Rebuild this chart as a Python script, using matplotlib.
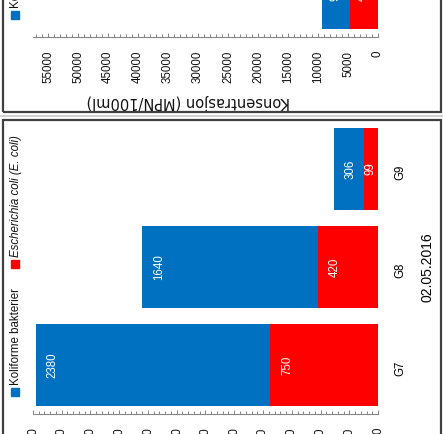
import matplotlib
matplotlib.use('Agg')
import matplotlib.pyplot as plt
from matplotlib.patches import Rectangle
from matplotlib.lines import Line2D
from matplotlib.ticker import MultipleLocator, FuncFormatter

# ---------------- data ----------------
sites = ['G7', 'G8', 'G9']
koliforme = [2380, 1640, 306]
ecoli = [750, 420, 99]
date_label = '02.05.2016'
top_koliforme = [9400]
top_ecoli = [4700]
legend_labels = ['Koliforme bakterier', 'Escherichia coli (E. coli)']
y_label = 'Konsentrasjon (MPN/100ml)'

# ---------------- style ----------------
W, H = 443, 434
BLUE = '#0070C0'
RED = '#FF0000'
FRAME = '#404040'
AXC = '#868686'
FS = 8.3
plt.rcParams['font.family'] = ['Liberation Sans', 'DejaVu Sans']

fig = plt.figure(figsize=(W / 100, H / 100), dpi=100)


def fx(px):
    return px / W


def fy(py):
    return 1 - py / H


def style_axis(ax, vmax, major, minor, pad):
    ax.set_xlim(vmax, 0)
    ax.set_ylim(-0.5, 2.5)
    ax.patch.set_visible(False)
    for s in ('top', 'right', 'left'):
        ax.spines[s].set_visible(False)
    ax.spines['bottom'].set_color(AXC)
    ax.spines['bottom'].set_linewidth(0.8)
    ax.xaxis.set_major_locator(MultipleLocator(major))
    ax.xaxis.set_minor_locator(MultipleLocator(minor))
    ax.xaxis.set_major_formatter(FuncFormatter(lambda v, p: f'{int(round(v))}'))
    ax.tick_params(axis='x', which='major', direction='in', length=3.2, width=0.7,
                   color=AXC, labelsize=FS, labelrotation=90, pad=pad, labelcolor='#111111')
    ax.tick_params(axis='x', which='minor', direction='in', length=2.0, width=0.7, color=AXC)


def bar_labels(ax, values, off_px):
    scale = ax.bbox.width / abs(ax.get_xlim()[0] - ax.get_xlim()[1])
    for i, v in enumerate(values):
        off = min(off_px, v * scale / 2)
        ax.annotate(f'{v}', xy=(v, i), xytext=(off, 0), textcoords='offset pixels',
                    rotation=90, ha='center', va='center', color='white', fontsize=FS)


# ---------------- bottom panel (fully visible chart) ----------------
ax = fig.add_axes([fx(33), fy(414), (378 - 33) / W, (414 - 120) / H])
yy = list(range(len(sites)))
ax.barh(yy, koliforme, height=0.83, color=BLUE)
ax.barh(yy, ecoli, height=0.83, color=RED)
style_axis(ax, 2400, 200, 40, 9.5)
ax.yaxis.tick_right()
ax.set_yticks(yy, sites)
ax.tick_params(axis='y', length=0, pad=12, labelsize=FS, labelrotation=90)
ax.yaxis.set_label_position('right')
ax.set_ylabel(date_label, rotation=90, fontsize=10, labelpad=10)
bar_labels(ax, koliforme, 17)
bar_labels(ax, ecoli, 17)

# ---------------- top panel (partially visible chart) ----------------
ax2 = fig.add_axes([fx(33), fy(37), (378 - 33) / W, (414 - 120) / H])
ax2.barh([0], top_koliforme, height=0.83, color=BLUE)
ax2.barh([0], top_ecoli, height=0.83, color=RED)
style_axis(ax2, 57500, 5000, 1000, 10)
ax2.set_yticks([])
bar_labels(ax2, top_koliforme, 14)
bar_labels(ax2, top_ecoli, 12)
fig.text(fx(188), fy(101), y_label, rotation=180, ha='center', va='center',
         fontsize=10.5, family=['DejaVu Sans'], color='#111111')

# ---------------- legends ----------------
for sq_y, txt_y in ((392, 385), (15, 8)):
    fig.add_artist(Rectangle((fx(11), fy(sq_y + 4)), 8 / W, 8 / H,
                             transform=fig.transFigure, color=BLUE))
    fig.text(fx(16), fy(txt_y), legend_labels[0], rotation=90, ha='center',
             va='bottom', fontsize=FS, color='#111111')
fig.add_artist(Rectangle((fx(11), fy(268)), 8 / W, 8 / H,
                         transform=fig.transFigure, color=RED))
fig.text(fx(16), fy(257), legend_labels[1], rotation=90, ha='center',
         va='bottom', fontsize=FS, style='italic', color='#111111')

# ---------------- frames ----------------
fig.add_artist(Rectangle((fx(3), fy(112)), (441 - 3) / W, (112 + 30) / H,
                         transform=fig.transFigure, fill=False, ec=FRAME, lw=1.6))
fig.add_artist(Rectangle((fx(3), fy(470)), (441 - 3) / W, (470 - 120) / H,
                         transform=fig.transFigure, fill=False, ec=FRAME, lw=1.6))
fig.add_artist(Line2D([0, 1], [fy(116.5), fy(116.5)], transform=fig.transFigure,
                      color='#c8c8c8', lw=1.2))

fig.savefig('out.png', dpi=100)
